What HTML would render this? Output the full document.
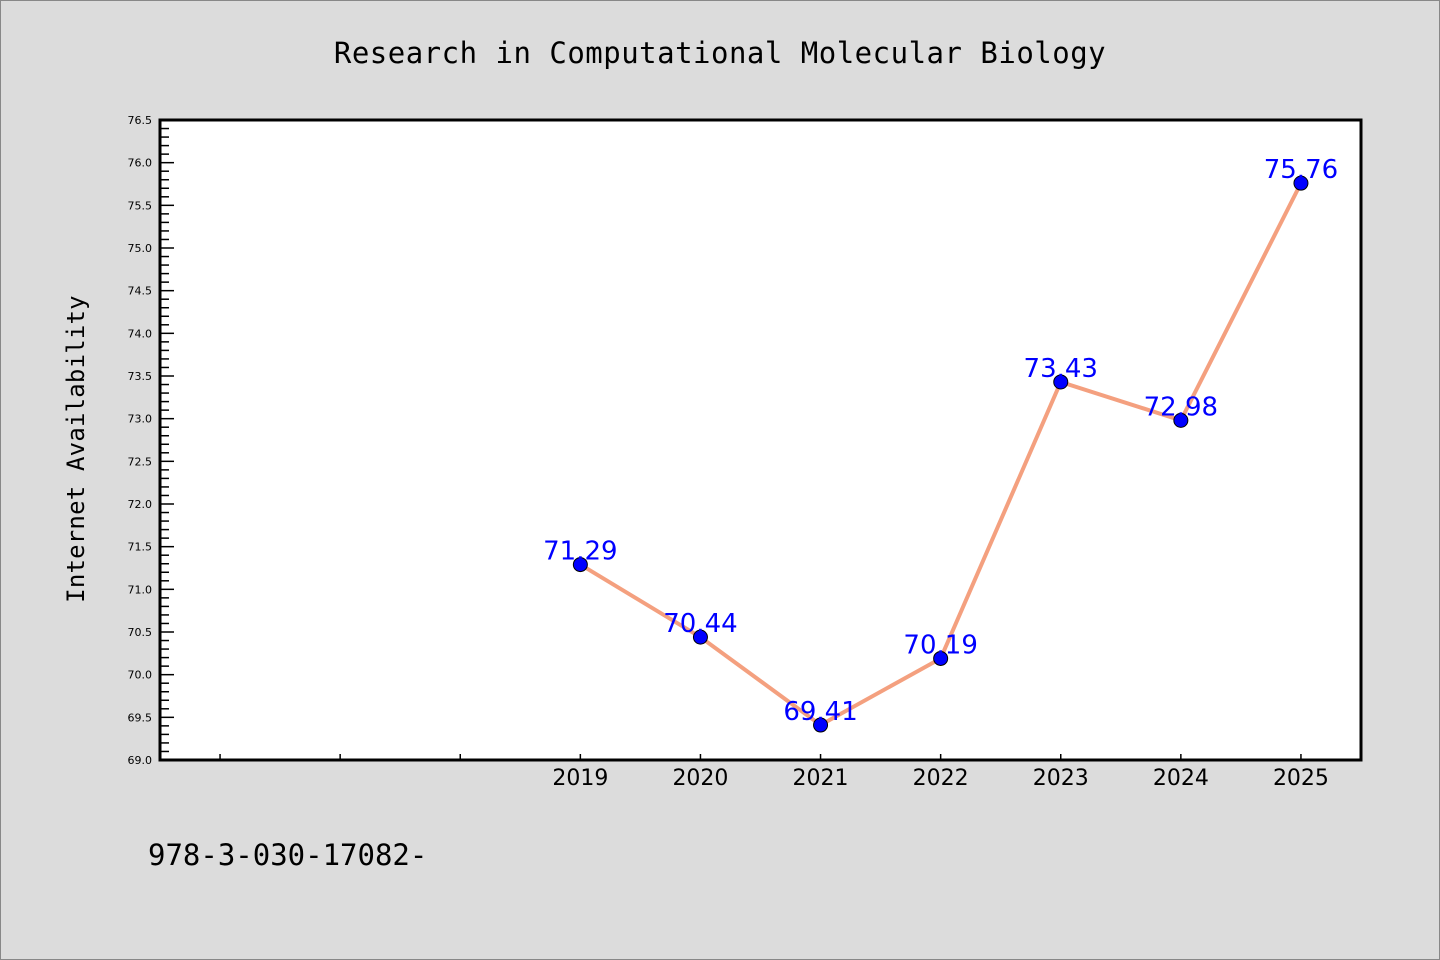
<!DOCTYPE html>
<html><head><meta charset="utf-8"><style>
body{margin:0;background:#dcdcdc;}
svg{display:block;font-family:"DejaVu Sans","Liberation Sans",sans-serif;}
</style></head><body>
<svg width="1440" height="960">
<rect x="0.5" y="0.5" width="1439" height="959" fill="#dcdcdc" stroke="#888"/>
<text x="720" y="63" text-anchor="middle" font-size="29" letter-spacing="0.5" font-family="'DejaVu Sans Mono','Liberation Mono',monospace">Research in Computational Molecular Biology</text>
<rect x="160" y="120" width="1201" height="640" fill="#fff"/>
<g id="yaxis"></g>
<g id="xaxis"></g>
<g id="series"></g>
<rect x="160" y="120" width="1201" height="640" fill="none" stroke="#000" stroke-width="3"/>
<text transform="translate(84,449) rotate(-90)" text-anchor="middle" font-size="24" letter-spacing="0.2" font-family="'DejaVu Sans Mono','Liberation Mono',monospace">Internet Availability</text>
<text x="148" y="865" font-size="29" font-family="'DejaVu Sans Mono','Liberation Mono',monospace">978-3-030-17082-</text>
</svg>
<script>
const years=[2019,2020,2021,2022,2023,2024,2025];
const values=[71.29,70.44,69.41,70.19,73.43,72.98,75.76];
const labels=["71.29","70.44","69.41","70.19","73.43","72.98","75.76"];
const xTicks=[2016,2017,2018,2019,2020,2021,2022,2023,2024,2025];
const xTickLabels=["","","","2019","2020","2021","2022","2023","2024","2025"];
const yMin=69.0,yMax=76.5,xMin=2015.5,xMax=2025.5;
const L=160,R=1361,T=120,B=760;
const sx=v=>L+(v-xMin)/(xMax-xMin)*(R-L);
const sy=v=>B-(v-yMin)/(yMax-yMin)*(B-T);
const NS="http://www.w3.org/2000/svg";
function mk(tag,attrs,parent){const e=document.createElementNS(NS,tag);for(const k in attrs)e.setAttribute(k,attrs[k]);parent.appendChild(e);return e;}
const ya=document.getElementById('yaxis'),xa=document.getElementById('xaxis'),se=document.getElementById('series');
for(let i=0;i<=75;i++){const v=yMin+i*0.1;const y=sy(v);const major=i%5===0;
 const t=mk('line',{x1:L,x2:L+(major?14:9),y1:y,y2:y,stroke:'#000','stroke-width':1.5},ya);
 
 if(major){const tx=mk('text',{x:152,y:y+4,'text-anchor':'end','font-size':11},ya);tx.textContent=v.toFixed(1);
 }}
xTicks.forEach((v,i)=>{const x=sx(v);
 const t=mk('line',{x1:x,x2:x,y1:B,y2:B-6,stroke:'#000','stroke-width':1.5},xa);
 
 if(xTickLabels[i]){const tx=mk('text',{x:x,y:785,'text-anchor':'middle','font-size':22},xa);tx.textContent=xTickLabels[i];
 }});
const pts=years.map((y,i)=>sx(y)+','+sy(values[i])).join(' ');
const pl=mk('polyline',{points:pts,fill:'none',stroke:'#f4a07f','stroke-width':4},se);

years.forEach((y,i)=>{const c=mk('circle',{cx:sx(y),cy:sy(values[i]),r:7,fill:'#0000ff',stroke:'#000','stroke-width':1},se);
 
 const t=mk('text',{x:sx(y),y:sy(values[i])-5,'text-anchor':'middle','font-size':26,fill:'#0000ff'},se);t.textContent=labels[i];
 });
</script>
</body></html>
